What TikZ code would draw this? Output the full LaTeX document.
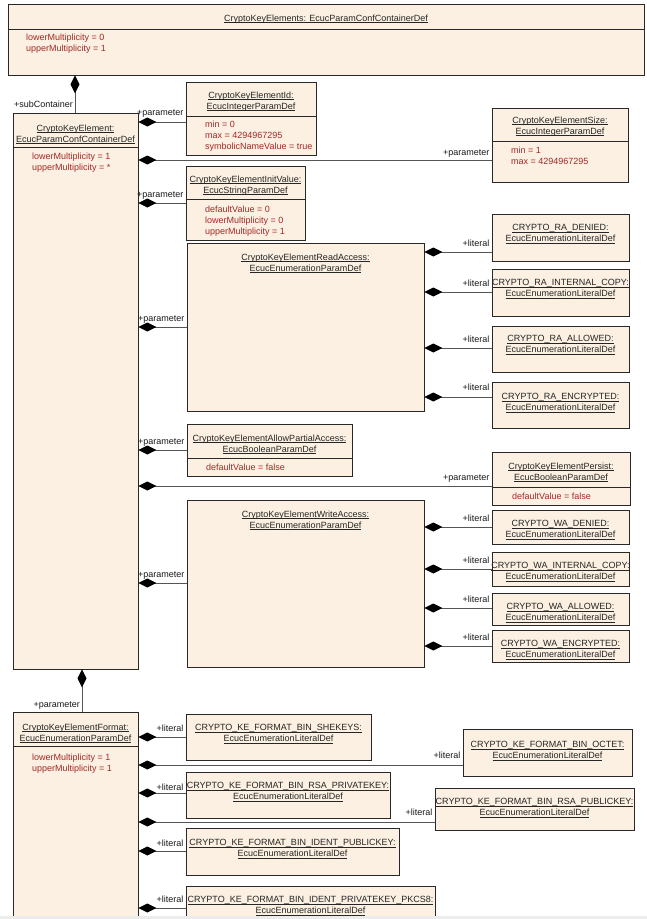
\documentclass[tikz,border=0pt]{standalone}
\usepackage{fontspec}
\setmainfont{Liberation Sans}
\usetikzlibrary{arrows.meta,fit,calc}
\definecolor{boxfill}{RGB}{251,240,225}
\definecolor{attrc}{RGB}{165,40,40}
\definecolor{edgec}{RGB}{40,40,40}
\definecolor{connc}{RGB}{85,85,85}
\definecolor{bandc}{RGB}{236,236,236}
\newsavebox\ulbox
\newcommand{\ulx}[1]{\sbox\ulbox{#1}\rlap{\rule[-1.6pt]{\wd\ulbox}{0.6pt}}\usebox\ulbox}
\tikzset{
  boxst/.style={draw=edgec, fill=boxfill, line width=0.9pt, inner sep=0pt},
  titlest/.style={align=center, inner sep=0pt, text=black!85, anchor=north},
  attrst/.style={align=left, inner sep=0pt, text=attrc, anchor=north west},
  lblst/.style={inner sep=0pt, anchor=base east, text=black!90},
  connst/.style={draw=connc, line width=0.9pt, {Diamond[length=18pt,width=9pt,color=black]}-},
  sepst/.style={draw=edgec, line width=0.9pt}
}
% name, x1, y1, x2, y2
\newcommand{\ubx}[5]{\node[boxst, fit={(#2,#3)(#4,#5)}] (#1) {};}
% name, first line centre y, text
\newcommand{\ttl}[3]{\coordinate (#1ty) at (0,#2-3.5); \node[titlest] (#1t) at (#1.north |- #1ty) {#3};}
% name, y
\newcommand{\sepl}[2]{\coordinate (#1sy) at (0,#2); \draw[sepst] (#1.west |- #1sy) -- (#1.east |- #1sy);}
% name, x, first line centre y, text
\newcommand{\atr}[4]{\node[attrst] (#1a) at (#2,#3-3.5) {#4};}
% from, to, line y, label centre y, label
\newcommand{\lnk}[5]{\coordinate (#1#2y) at (0,#3); \coordinate (#1#2ly) at (0,#4+3);
  \draw[connst] (#1.east |- #1#2y) -- (#2.west |- #1#2y);
  \node[lblst] (#1#2l) at ($(#2.west |- #1#2ly)+(-2,0)$) {#5};}
\begin{document}
\begin{tikzpicture}[x=1pt,y=-1pt, font=\fontsize{9}{11}\selectfont]
\path[use as bounding box, fill=white] (0,0) rectangle (647,919);

% top container
\ubx{top}{8}{4}{644}{75}
\ttl{top}{18}{\ulx{CryptoKeyElements: EcucParamConfContainerDef}}
\sepl{top}{29}
\atr{top}{26}{37}{lowerMultiplicity = 0\\upperMultiplicity = 1}

% CryptoKeyElement
\ubx{cke}{13}{113}{138}{669}
\ttl{cke}{128}{\ulx{CryptoKeyElement:}\\\ulx{EcucParamConfContainerDef}}
\sepl{cke}{147}
\atr{cke}{32}{156}{lowerMultiplicity = 1\\upperMultiplicity = *}

% Id
\ubx{kid}{186}{82}{316}{155}
\ttl{kid}{95}{\ulx{CryptoKeyElementId:}\\\ulx{EcucIntegerParamDef}}
\sepl{kid}{116}
\atr{kid}{205}{124}{min = 0\\max = 4294967295\\symbolicNameValue = true}

% Size
\ubx{ksize}{492}{108}{628}{182}
\ttl{ksize}{120}{\ulx{CryptoKeyElementSize:}\\\ulx{EcucIntegerParamDef}}
\sepl{ksize}{141}
\atr{ksize}{511}{150}{min = 1\\max = 4294967295}

% InitValue
\ubx{init}{186}{166}{305}{240}
\ttl{init}{179}{\ulx{CryptoKeyElementInitValue:}\\\ulx{EcucStringParamDef}}
\sepl{init}{199}
\atr{init}{205}{209}{defaultValue = 0\\lowerMultiplicity = 0\\upperMultiplicity = 1}

% ReadAccess
\ubx{read}{187}{243}{424}{411}
\ttl{read}{257}{\ulx{CryptoKeyElementReadAccess:}\\\ulx{EcucEnumerationParamDef}}

\ubx{raden}{492}{214}{629}{261}
\ttl{raden}{228}{\ulx{CRYPTO\_RA\_DENIED:}\\\ulx{EcucEnumerationLiteralDef}}
\ubx{racopy}{492}{269}{629}{316}
\ttl{racopy}{283}{\ulx{CRYPTO\_RA\_INTERNAL\_COPY:}\\\ulx{EcucEnumerationLiteralDef}}
\ubx{raall}{492}{326}{629}{372}
\ttl{raall}{339}{\ulx{CRYPTO\_RA\_ALLOWED:}\\\ulx{EcucEnumerationLiteralDef}}
\ubx{raenc}{492}{382}{629}{428}
\ttl{raenc}{397}{\ulx{CRYPTO\_RA\_ENCRYPTED:}\\\ulx{EcucEnumerationLiteralDef}}

% AllowPartialAccess
\ubx{partial}{187}{424}{352}{476}
\ttl{partial}{438}{\ulx{CryptoKeyElementAllowPartialAccess:}\\\ulx{EcucBooleanParamDef}}
\sepl{partial}{458}
\atr{partial}{206}{467}{defaultValue = false}

% Persist
\ubx{persist}{492}{452}{630}{505}
\ttl{persist}{466}{\ulx{CryptoKeyElementPersist:}\\\ulx{EcucBooleanParamDef}}
\sepl{persist}{487}
\atr{persist}{512}{496}{defaultValue = false}

% WriteAccess
\ubx{write}{187}{500}{424}{667}
\ttl{write}{514}{\ulx{CryptoKeyElementWriteAccess:}\\\ulx{EcucEnumerationParamDef}}

\ubx{waden}{492}{510}{629}{544}
\ttl{waden}{524}{\ulx{CRYPTO\_WA\_DENIED:}\\\ulx{EcucEnumerationLiteralDef}}
\ubx{wacopy}{492}{552}{629}{586}
\ttl{wacopy}{566}{\ulx{CRYPTO\_WA\_INTERNAL\_COPY:}\\\ulx{EcucEnumerationLiteralDef}}
\ubx{waall}{492}{593}{629}{625}
\ttl{waall}{607}{\ulx{CRYPTO\_WA\_ALLOWED:}\\\ulx{EcucEnumerationLiteralDef}}
\ubx{waenc}{492}{630}{629}{662}
\ttl{waenc}{644}{\ulx{CRYPTO\_WA\_ENCRYPTED:}\\\ulx{EcucEnumerationLiteralDef}}

% Format
\ubx{fmt}{13}{712}{138}{918}
\ttl{fmt}{727}{\ulx{CryptoKeyElementFormat:}\\\ulx{EcucEnumerationParamDef}}
\sepl{fmt}{746}
\atr{fmt}{32}{757}{lowerMultiplicity = 1\\upperMultiplicity = 1}

\ubx{she}{186}{714}{371}{760}
\ttl{she}{728}{\ulx{CRYPTO\_KE\_FORMAT\_BIN\_SHEKEYS:}\\\ulx{EcucEnumerationLiteralDef}}
\ubx{oct}{463}{729}{632}{776}
\ttl{oct}{745}{\ulx{CRYPTO\_KE\_FORMAT\_BIN\_OCTET:}\\\ulx{EcucEnumerationLiteralDef}}
\ubx{rsapriv}{186}{772}{390}{818}
\ttl{rsapriv}{786}{\ulx{CRYPTO\_KE\_FORMAT\_BIN\_RSA\_PRIVATEKEY:}\\\ulx{EcucEnumerationLiteralDef}}
\ubx{rsapub}{435}{788}{634}{830}
\ttl{rsapub}{802}{\ulx{CRYPTO\_KE\_FORMAT\_BIN\_RSA\_PUBLICKEY:}\\\ulx{EcucEnumerationLiteralDef}}
\ubx{idpub}{186}{828}{399}{875}
\ttl{idpub}{843}{\ulx{CRYPTO\_KE\_FORMAT\_BIN\_IDENT\_PUBLICKEY:}\\\ulx{EcucEnumerationLiteralDef}}
\ubx{pkcs}{186}{886}{435}{918}
\ttl{pkcs}{900}{\ulx{CRYPTO\_KE\_FORMAT\_BIN\_IDENT\_PRIVATEKEY\_PKCS8:}\\\ulx{EcucEnumerationLiteralDef}}

% connectors
\coordinate (vxa) at (75,0);
\draw[connst] (top.south -| vxa) -- (cke.north -| vxa);
\node[lblst] (subl) at (73,107) {+subContainer};
\coordinate (vxb) at (82,0);
\draw[connst] (cke.south -| vxb) -- (fmt.north -| vxb);
\node[lblst] (fmtl) at (80,707) {+parameter};

\lnk{cke}{kid}{122}{112}{+parameter}
\lnk{cke}{ksize}{160}{152}{+parameter}
\lnk{cke}{init}{203}{194}{+parameter}
\lnk{cke}{read}{327}{318}{+parameter}
\lnk{cke}{partial}{450}{441}{+parameter}
\lnk{cke}{persist}{486}{477}{+parameter}
\lnk{cke}{write}{583}{574}{+parameter}

\lnk{read}{raden}{252}{243}{+literal}
\lnk{read}{racopy}{292}{283}{+literal}
\lnk{read}{raall}{348}{339}{+literal}
\lnk{read}{raenc}{397}{387}{+literal}

\lnk{write}{waden}{527}{518}{+literal}
\lnk{write}{wacopy}{569}{560}{+literal}
\lnk{write}{waall}{608}{599}{+literal}
\lnk{write}{waenc}{646}{637}{+literal}

\lnk{fmt}{she}{737}{728}{+literal}
\lnk{fmt}{oct}{765}{755}{+literal}
\lnk{fmt}{rsapriv}{793}{787}{+literal}
\lnk{fmt}{rsapub}{822}{812}{+literal}
\lnk{fmt}{idpub}{851}{843}{+literal}
\lnk{fmt}{pkcs}{908}{899}{+literal}

\fill[bandc] (0,916) rectangle (647,919);
\end{tikzpicture}
\end{document}
